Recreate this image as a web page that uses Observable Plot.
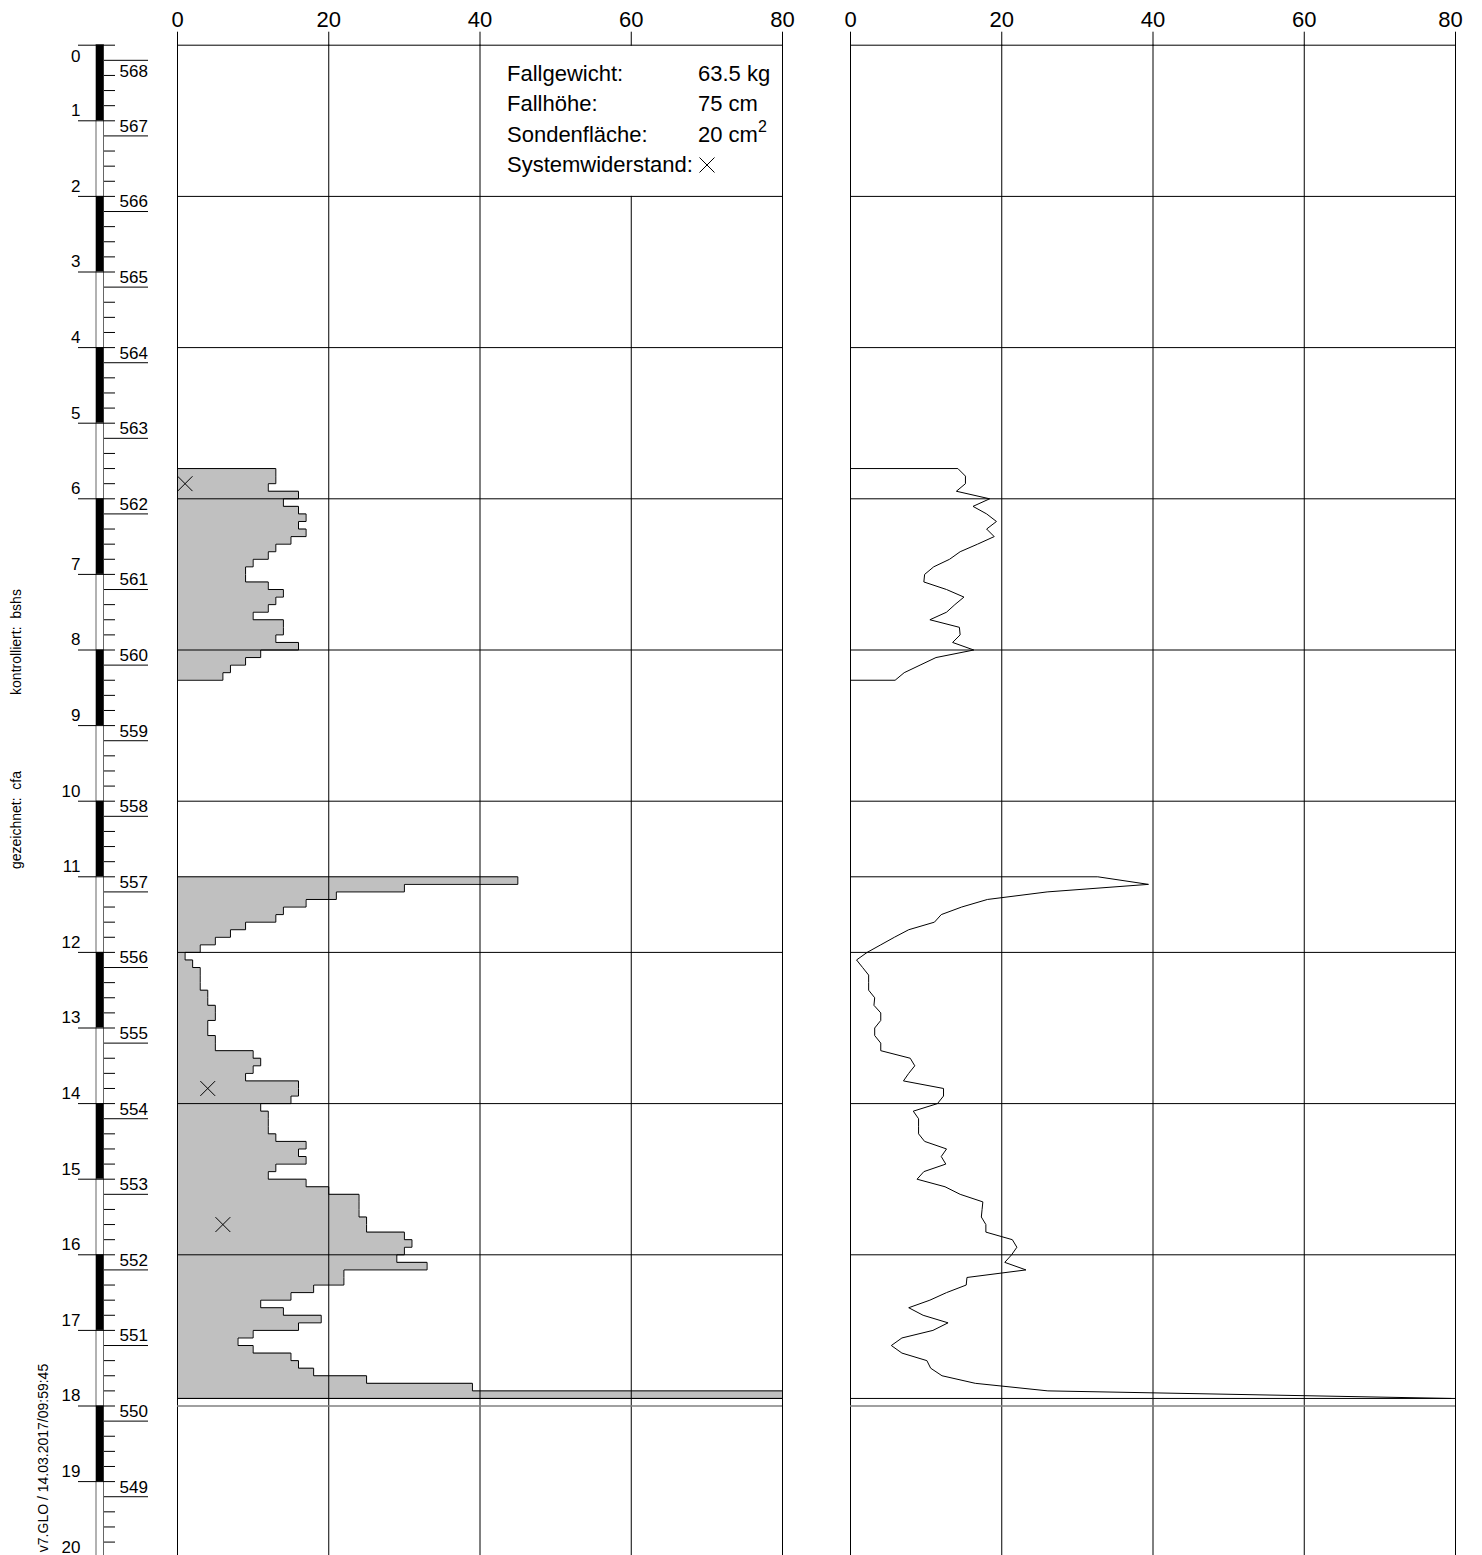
<!DOCTYPE html>
<html><head><meta charset="utf-8">
<script src="https://cdn.jsdelivr.net/npm/d3@7"></script>
<script src="https://cdn.jsdelivr.net/npm/@observablehq/plot@0.6"></script>
<style>
body{margin:0;background:#fff;}
#wrap{position:relative;width:1482px;height:1555px;overflow:hidden;font-family:"Liberation Sans",Arial,Helvetica,sans-serif;color:#000;}
#wrap svg{position:absolute;left:0;top:0;}
.vt{position:absolute;white-space:pre;transform:translate(-50%,-50%) rotate(-90deg);font-size:14px;line-height:14px;}
.lg{position:absolute;white-space:nowrap;font-size:22px;line-height:22px;}
</style></head><body><div id="wrap"></div>
<script>
// ---------------- data ----------------
const depthStep = 0.1;                 // m per blow-count interval
const seg1Start = 5.6;                 // m
const seg1Blows = [13,13,12,16,14,16,17,16,17,15,13,12,10,9,9,12,14,13,12,10,14,14,13,16,11,9,7,6];
const seg2Start = 11.0;
const seg2Blows = [45,30,21,17,14,13,9,7,5,3,
                   1,2,3,3,3,4,4,5,5,4,
                   4,5,5,10,11,10,9,16,16,15,
                   11,12,12,12,13,17,16,17,13,12,
                   17,20,24,24,24,25,25,30,31,30,
                   29,33,22,22,18,15,11,14,19,16,
                   10,8,10,15,16,18,25,39,80];
const seg1Line = [14.2,15.2,15.2,14.0,18.4,16.2,18.0,19.3,18.0,19.0,16.8,14.5,13.1,11.0,9.8,9.7,12.7,15.0,13.8,12.7,10.5,14.4,14.5,13.5,16.3,11.3,9.2,7.1,5.9];
const seg2Line = [32.7,39.4,26,18.1,14.7,12.0,11.1,7.7,5.8,4.0,
                  2.2,0.8,1.6,2.4,2.4,2.4,3.2,3.1,4.0,4.0,
                  3.2,3.2,4.0,4.0,7.9,8.5,7.7,7.0,12.3,12.3,
                  11.5,8.3,9.0,9.0,9.0,9.8,12.7,12.0,12.6,9.7,
                  8.8,12.5,14.5,17.5,17.4,17.3,17.9,17.9,21.4,22.0,
                  21.3,20.4,23.2,15.4,15.3,12.7,10.5,7.7,9.6,12.9,
                  10.9,6.8,5.4,6.8,10.1,10.6,12.1,16.5,26.1,79.4];
const probeEnd = 17.9;
const markerDepths = [5.8, 13.8, 15.6];
const markerValues = [1, 4, 6];
const xTicks = [0, 20, 40, 60, 80];
const gridDepths = [0, 2, 4, 6, 8, 10, 12, 14, 16];
const depthTicks = d3.range(0, 21);
const groundElevation = 568.2;
const elevations = d3.range(568, 548, -1);

// ---------------- derived ----------------
const r2 = v => Math.round(v * 100) / 100;
function stepOutline(start, vals, seg) {
  const pts = [{d: start, v: 0, seg}];
  vals.forEach((v, i) => {
    pts.push({d: r2(start + i * depthStep), v, seg});
    pts.push({d: r2(start + (i + 1) * depthStep), v, seg});
  });
  pts.push({d: r2(start + vals.length * depthStep), v: 0, seg});
  return pts;
}
const leftPts = [...stepOutline(seg1Start, seg1Blows, "a"), ...stepOutline(seg2Start, seg2Blows, "b")];
const rightPts = [
  {d: seg1Start, v: 0, seg: "a"},
  ...seg1Line.map((v, i) => ({d: r2(seg1Start + i * depthStep), v, seg: "a"})),
  {d: r2(seg1Start + (seg1Line.length - 1) * depthStep), v: 0, seg: "a"},
  {d: seg2Start, v: 0, seg: "b"},
  ...seg2Line.map((v, i) => ({d: r2(seg2Start + i * depthStep), v, seg: "b"}))
];
const markers = markerDepths.map((d, i) => ({d, v: markerValues[i]}));

const W = 1482, H = 1555;
const Y = {domain: [0, 20], range: [44.7, 1556.7]};
const FONT = "Liberation Sans, Arial, sans-serif";
const wrap = document.getElementById("wrap");

function panel(x0, x1, opts) {
  const isLeft = opts.left;
  const marks = [];
  if (isLeft) {
    marks.push(Plot.areaX(leftPts, {x1: 0, x2: "v", y: "d", z: "seg", fill: "#c0c0c0"}));
    marks.push(Plot.line(leftPts, {x: "v", y: "d", z: "seg", stroke: "#000", strokeWidth: 1}));
  }
  // vertical grid
  if (isLeft) {
    marks.push(Plot.ruleX([0, 20, 40, 80], {y1: 0, y2: 20, stroke: "#000", strokeWidth: 1}));
    marks.push(Plot.ruleX([60], {y1: 2, y2: 20, stroke: "#000", strokeWidth: 1}));
  } else {
    marks.push(Plot.ruleX(xTicks, {y1: 0, y2: 20, stroke: "#000", strokeWidth: 1}));
  }
  marks.push(Plot.ruleY(gridDepths, {x1: 0, x2: 80, stroke: "#000", strokeWidth: 1}));
  marks.push(Plot.ruleY([18], {x1: 0, x2: 80, stroke: "#808080", strokeWidth: 1.6}));
  marks.push(Plot.ruleY([probeEnd], {x1: 0, x2: 80, stroke: "#000", strokeWidth: 1}));
  if (isLeft) {
    marks.push(Plot.dot(markers, {x: "v", y: "d", symbol: "times", r: 6.8, stroke: "#000", strokeWidth: 1}));
  } else {
    marks.push(Plot.line(rightPts, {x: "v", y: "d", z: "seg", stroke: "#000", strokeWidth: 1}));
  }
  marks.push(Plot.axisX(xTicks, {anchor: "top", label: null, tickSize: 14, tickPadding: 4, fontSize: 22,
    tickFormat: d => (!isLeft && d === 80) ? "" : String(d)}));
  if (!isLeft) marks.push(Plot.axisX([80], {anchor: "top", label: null, tickSize: 0, tickPadding: 18, fontSize: 22, dx: -5, tickFormat: d => String(d)}));
  return Plot.plot({
    width: W, height: H, marginTop: 44.7, marginBottom: 0, marginLeft: 0, marginRight: 0,
    x: {domain: [0, 80], range: [x0, x1], label: null},
    y: {...Y, axis: null},
    style: {background: "transparent", fontFamily: FONT, color: "#000", overflow: "visible"},
    marks
  });
}

wrap.appendChild(panel(177, 782, {left: true}));
wrap.appendChild(panel(850, 1455, {left: false}));

// depth ruler
const blackBands = d3.range(0, 20, 2).map(a => ({a, b: a + 1}));
const minorTicks = d3.range(0, 101).map(i => r2(i * 0.2)).filter(d => Math.abs(d - Math.round(d)) > 1e-6);
const elevRows = elevations.map(e => ({e, d: r2(groundElevation - e)}));
const minorOnly = minorTicks.filter(d => !elevRows.some(r => Math.abs(r.d - d) < 1e-6));
const ruler = Plot.plot({
  width: W, height: H, margin: 0,
  x: {domain: [0, W], range: [0, W], axis: null},
  y: {...Y, axis: null},
  style: {background: "transparent", fontFamily: FONT, color: "#000", overflow: "visible"},
  marks: [
    Plot.rect([{a: 0, b: 20}], {x1: 96, x2: 103.5, y1: "a", y2: "b", fill: "#fff", stroke: "#666", strokeWidth: 1}),
    Plot.rect(blackBands, {x1: 96, x2: 103.5, y1: "a", y2: "b", fill: "#000"}),
    Plot.ruleY(minorOnly, {x1: 104, x2: 115, stroke: "#000", strokeWidth: 1}),
    Plot.ruleY(depthTicks, {x1: 78, x2: 115, stroke: "#000", strokeWidth: 1}),
    Plot.ruleY(elevRows, {y: "d", x1: 104, x2: 148, stroke: "#000", strokeWidth: 1}),
    Plot.text(depthTicks.filter(d => d === 0), {x: 80, y: d => d, text: d => String(d), textAnchor: "end", dy: 11, fontSize: 17}),
    Plot.text(depthTicks.filter(d => d > 0), {x: 80, y: d => d, text: d => String(d), textAnchor: "end", dy: -10, fontSize: 17}),
    Plot.text(elevRows.slice(0, 1), {x: 119, y: "d", text: r => String(r.e), textAnchor: "start", dy: 11, fontSize: 17}),
    Plot.text(elevRows.slice(1), {x: 119, y: "d", text: r => String(r.e), textAnchor: "start", dy: -9.5, fontSize: 17})
  ]
});
wrap.appendChild(ruler);

// legend
const legendRows = [
  ["Fallgewicht:", "63.5 kg", 82],
  ["Fallhöhe:", "75 cm", 112],
  ["Sondenfläche:", "20 cm<sup style='font-size:16px;vertical-align:10px;line-height:0'>2</sup>", 142.5],
  ["Systemwiderstand:", "<svg width='18' height='18' style='position:relative;top:-2px;vertical-align:middle' viewBox='0 0 18 18'><path d='M1.5,1.5L16.5,16.5M16.5,1.5L1.5,16.5' stroke='#000' stroke-width='1' fill='none'/></svg>", 173]
];
legendRows.forEach(([label, val, base]) => {
  const a = document.createElement("div");
  a.className = "lg"; a.style.left = "507px"; a.style.top = (base - 18.6) + "px"; a.textContent = label;
  wrap.appendChild(a);
  const b = document.createElement("div");
  b.className = "lg"; b.style.left = "698px"; b.style.top = (base - 18.6) + "px"; b.innerHTML = val;
  wrap.appendChild(b);
});

// vertical side texts
[["kontrolliert:  bshs", 16, 642], ["gezeichnet:  cfa", 16, 820], ["v7.GLO / 14.03.2017/09:59:45", 43, 1458]].forEach(([t, x, y]) => {
  const el = document.createElement("div");
  el.className = "vt"; el.style.left = x + "px"; el.style.top = y + "px"; el.textContent = t;
  wrap.appendChild(el);
});
</script></body></html>
